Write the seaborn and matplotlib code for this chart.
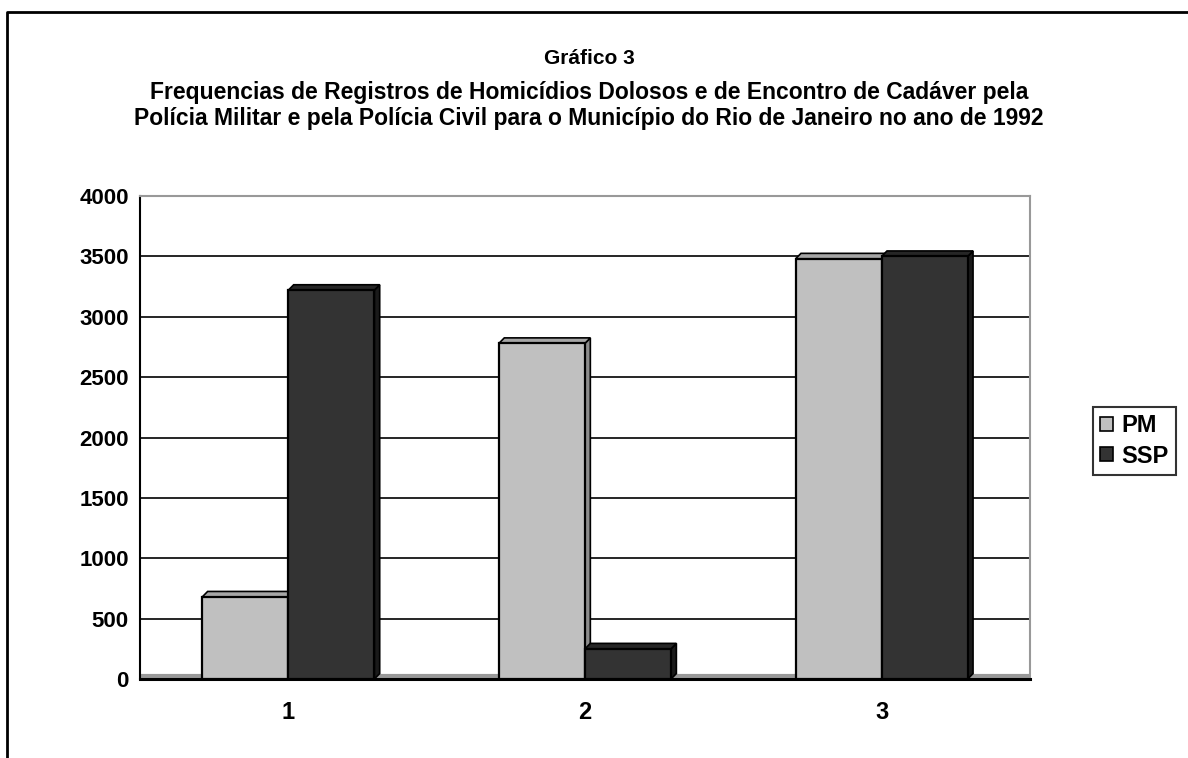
import pandas as pd
import seaborn as sns
import matplotlib.pyplot as plt
from matplotlib.patches import Polygon, Patch
from matplotlib.lines import Line2D

# dados do grafico
categorias = ["1", "2", "3"]
series = ["PM", "SSP"]
valores_pm = [680, 2780, 3480]
valores_ssp = [3220, 250, 3500]

cores = {"PM": "#C0C0C0", "SSP": "#333333"}
cores_lado = {"PM": "#8C8C8C", "SSP": "#1A1A1A"}
cores_topo = {"PM": "#A6A6A6", "SSP": "#262626"}

titulo = ["Gráfico 3",
          "Frequencias de Registros de Homicídios Dolosos e de Encontro de Cadáver pela",
          "Polícia Militar e pela Polícia Civil para o Município do Rio de Janeiro no ano de 1992"]


def montar_df():
    linhas = []
    for i, c in enumerate(categorias):
        linhas.append({"categoria": c, "serie": "PM", "valor": valores_pm[i]})
        linhas.append({"categoria": c, "serie": "SSP", "valor": valores_ssp[i]})
    return pd.DataFrame(linhas)


def make_image(df, output_path="out.png"):
    sns.set_theme(style="white")
    plt.rcParams["font.family"] = ["Liberation Sans", "DejaVu Sans"]
    plt.rcParams["font.weight"] = "bold"
    plt.rcParams["text.color"] = "black"
    plt.rcParams["xtick.color"] = "black"
    plt.rcParams["ytick.color"] = "black"

    fig = plt.figure(figsize=(11.88, 7.58), dpi=100)
    ax = fig.add_axes([140 / 1188, 1 - 679 / 758, 890 / 1188, 483 / 758])

    sns.barplot(data=df, x="categoria", y="valor", hue="serie", order=categorias,
                hue_order=series, palette=cores, width=0.58, edgecolor="black",
                linewidth=1.6, saturation=1, legend=False, ax=ax, zorder=3)

    # efeito 3D tirado das proprias barras
    dx, dy = 0.018, 45
    for p, serie in zip(ax.patches, [s for s in series for _ in categorias]):
        x0, w, h = p.get_x(), p.get_width(), p.get_height()
        lado = Polygon([(x0 + w, 0), (x0 + w + dx, dy), (x0 + w + dx, h + dy), (x0 + w, h)],
                       closed=True, facecolor=cores_lado[serie], edgecolor="black",
                       linewidth=1.2, zorder=2.5)
        topo = Polygon([(x0, h), (x0 + dx, h + dy), (x0 + w + dx, h + dy), (x0 + w, h)],
                       closed=True, facecolor=cores_topo[serie], edgecolor="black",
                       linewidth=1.2, zorder=2.5)
        ax.add_patch(lado)
        ax.add_patch(topo)

    ax.set_xlim(-0.5, 2.5)
    ax.set_ylim(0, 4000)
    ax.set_yticks(range(0, 4001, 500))
    ax.yaxis.grid(True, color="black", linewidth=1.2, zorder=0)
    ax.set_axisbelow(True)
    ax.set_xlabel("")
    ax.set_ylabel("")

    ax.set_xticks([-0.5, 0.5, 1.5, 2.5], minor=True)
    ax.tick_params(axis="x", which="major", length=0, labelsize=17, pad=16)
    ax.tick_params(axis="x", which="minor", length=6, width=1.3, color="black", direction="out")
    ax.tick_params(axis="y", length=5, width=1, color="black", direction="out",
                   labelsize=16, pad=3)
    for lbl in ax.get_xticklabels() + ax.get_yticklabels():
        lbl.set_fontweight("bold")

    for lado in ["top", "right"]:
        ax.spines[lado].set_color("#999999")
        ax.spines[lado].set_linewidth(1.5)
    ax.spines["left"].set_color("black")
    ax.spines["left"].set_linewidth(1.5)
    ax.spines["bottom"].set_color("black")
    ax.spines["bottom"].set_linewidth(2.2)
    # chao cinza
    ax.axhline(25, color="#999999", linewidth=3, zorder=1)

    # titulo
    fig.text(0.496, 1 - 58 / 758, titulo[0], ha="center", va="center", fontsize=15, fontweight="bold")
    fig.text(0.496, 1 - 93 / 758, titulo[1], ha="center", va="center", fontsize=16.5, fontweight="bold")
    fig.text(0.496, 1 - 118 / 758, titulo[2], ha="center", va="center", fontsize=16.5, fontweight="bold")

    handles = [Patch(facecolor=cores[s], edgecolor="black", linewidth=1.2) for s in series]
    leg = fig.legend(handles, series, loc="center left", bbox_to_anchor=(1093 / 1188, 1 - 441 / 758),
                     prop={"size": 17, "weight": "bold"}, frameon=True, fancybox=False,
                     edgecolor="black", handlelength=0.55, handleheight=0.55, handletextpad=0.35,
                     borderpad=0.3, labelspacing=0.3, borderaxespad=0)
    leg.get_frame().set_linewidth(1.5)

    # moldura do grafico
    fig.add_artist(Line2D([7 / 1188, 7 / 1188, 1], [0, 1 - 12 / 758, 1 - 12 / 758],
                          color="black", linewidth=2, transform=fig.transFigure))

    fig.savefig(output_path, dpi=100)
    plt.close(fig)


if __name__ == "__main__":
    make_image(montar_df())
